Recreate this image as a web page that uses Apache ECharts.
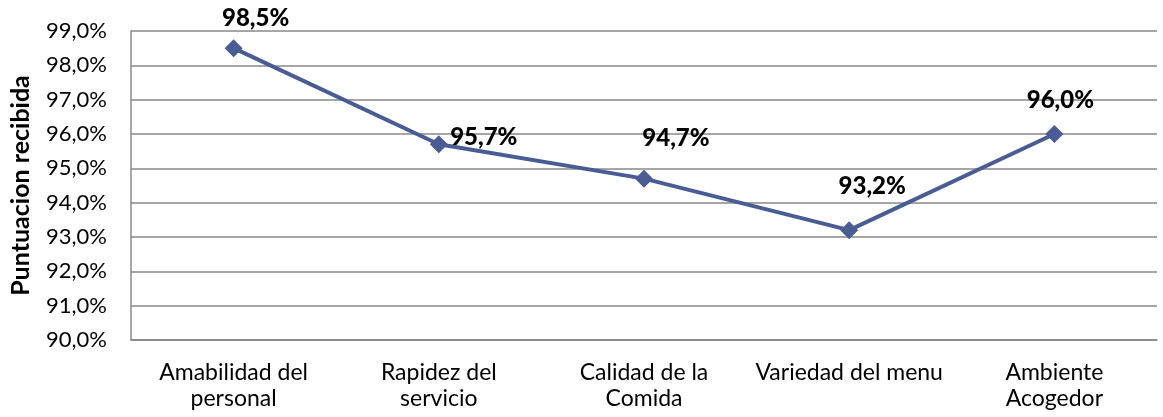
<!DOCTYPE html>
<html><head><meta charset="utf-8">
<script src="https://cdn.jsdelivr.net/npm/echarts@6/dist/echarts.min.js"></script>
<style>html,body{margin:0;padding:0;background:#fff}#c{width:1163px;height:417px}</style>
</head><body><div id="c"></div>
<script>
const categories = ["Amabilidad del\npersonal", "Rapidez del\nservicio", "Calidad de la\nComida", "Variedad del menu", "Ambiente\nAcogedor"];
const values = [98.5, 95.7, 94.7, 93.2, 96.0];
const labelOffsets = [[22, -30], [45, -7], [32, -40], [23, -44], [6, -34]];
const yTitle = "Puntuacion recibida";
const fmt = v => v.toFixed(1).replace('.', ',') + '%';
const font = 'Lato, "Open Sans", sans-serif';
const chart = echarts.init(document.getElementById('c'));
chart.setOption({
  animation: false,
  grid: {left: 130, right: 6, top: 31, bottom: 77},
  xAxis: {
    type: 'category', data: categories, boundaryGap: true,
    axisLine: {lineStyle: {color: '#888', width: 1.5}},
    axisTick: {show: false},
    axisLabel: {color: '#000', fontSize: 23, fontFamily: font, lineHeight: 26, margin: 20, interval: 0}
  },
  yAxis: {
    type: 'value', min: 90, max: 99, interval: 1,
    name: yTitle, nameLocation: 'middle', nameGap: 98, nameRotate: 90,
    nameTextStyle: {color: '#000', fontSize: 25, fontWeight: 'bold', fontFamily: font},
    axisLine: {show: true, lineStyle: {color: '#888', width: 1.5}},
    axisTick: {show: false},
    splitLine: {lineStyle: {color: '#888', width: 1.5}},
    axisLabel: {color: '#000', fontSize: 22, fontFamily: font, margin: 24, formatter: fmt}
  },
  series: [{
    type: 'line', data: values.map((v, i) => ({
      value: v,
      label: {offset: labelOffsets[i]}
    })),
    symbol: 'diamond', symbolSize: 18,
    lineStyle: {color: '#4a5c94', width: 4},
    itemStyle: {color: '#4a5c94'},
    label: {
      show: true, position: 'inside', align: 'center', verticalAlign: 'middle',
      color: '#000', fontSize: 24, fontWeight: 900, fontFamily: font,
      formatter: p => fmt(p.value)
    }
  }]
});
</script></body></html>
